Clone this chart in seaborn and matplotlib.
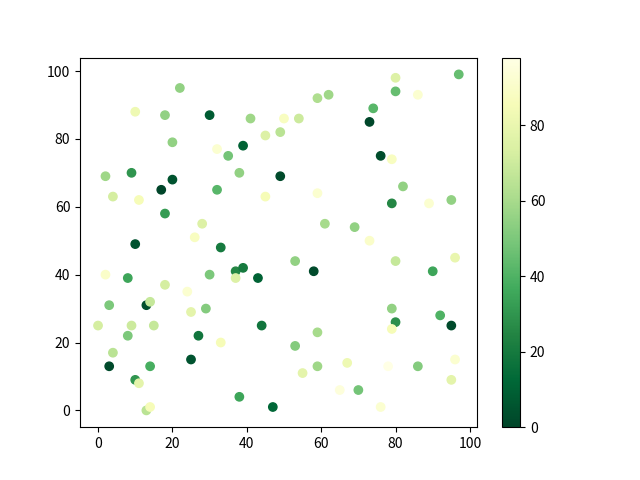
import matplotlib
matplotlib.use("Agg")
import matplotlib.pyplot as plt
import seaborn as sns

plt.rcParams['font.family'] = ['Noto Sans CJK SC', 'DejaVu Sans']

# point coordinates and colour values
xs = [22, 10, 18, 30, 41, 45, 20, 32, 39, 35, 38, 2, 9, 20, 17, 32, 4, 11, 18, 28,
      26, 10, 33, 45, 97, 80, 80, 86, 62, 59, 74, 73, 50, 54, 49, 76, 79, 49, 82, 59,
      79, 89, 95, 61, 69, 73,
      2, 8, 18, 24, 30, 37, 39, 37, 43, 3, 13, 14, 25, 29, 0, 9, 15, 44, 8, 27,
      33, 4, 25, 3, 14, 10, 11, 38, 13, 14, 47, 53, 58, 80, 90, 96, 79, 80, 79, 92,
      95, 59, 53, 67, 59, 78, 86, 96, 55, 95, 65, 70, 76]
ys = [95, 88, 87, 87, 86, 81, 79, 77, 78, 75, 70, 69, 70, 68, 65, 65, 63, 62, 58, 55,
      51, 49, 48, 63, 99, 98, 94, 93, 93, 92, 89, 85, 86, 86, 82, 75, 74, 69, 66, 64,
      61, 61, 62, 55, 54, 50,
      40, 39, 37, 35, 40, 41, 42, 39, 39, 31, 31, 32, 29, 30, 25, 25, 25, 25, 22, 22,
      20, 17, 15, 13, 13, 9, 8, 4, 0, 1, 1, 44, 41, 44, 41, 45, 30, 26, 24, 28,
      25, 23, 19, 14, 13, 13, 13, 15, 11, 9, 6, 6, 1]
vals = [55, 82, 55, 8, 58, 75, 55, 92, 10, 48, 55, 58, 30, 5, 0, 42, 72, 85, 32, 75,
        88, 5, 20, 85, 45, 75, 45, 92, 58, 62, 42, 1, 88, 70, 65, 3, 88, 2, 55, 92,
        25, 92, 55, 60, 55, 90,
        90, 35, 72, 92, 50, 25, 20, 75, 10, 50, 3, 68, 78, 52, 72, 70, 68, 18, 50, 18,
        85, 65, 5, 2, 38, 30, 78, 35, 65, 85, 12, 55, 2, 68, 35, 80, 55, 28, 85, 40,
        2, 60, 52, 82, 58, 98, 52, 92, 78, 78, 95, 48, 92]

fig, ax = plt.subplots(figsize=(6.4, 4.8), dpi=100)
sns.scatterplot(x=xs, y=ys, c=vals, cmap="YlGn_r", edgecolor="face", linewidth=1.0, ax=ax)
ax.set_xlabel("")
ax.set_ylabel("")
fig.colorbar(ax.collections[0], ax=ax)

plt.savefig("out.png")
